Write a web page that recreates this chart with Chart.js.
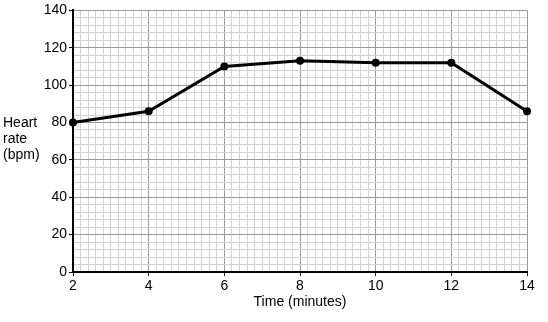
<!DOCTYPE html>
<html>
<head>
<meta charset="utf-8">
<script src="https://cdn.jsdelivr.net/npm/chart.js@4"></script>
<style>
html,body{margin:0;padding:0;background:#fff;}
#wrap{width:548px;height:322px;position:relative;}
</style>
</head>
<body>
<div id="wrap"><canvas id="c" width="548" height="322"></canvas></div>
<script>
const timeMinutes = [2, 4, 6, 8, 10, 12, 14];
const heartRate = [80, 86, 110, 113, 112, 112, 86];
const xTickLabels = [2, 4, 6, 8, 10, 12, 14];
const yTickLabels = [0, 20, 40, 60, 80, 100, 120, 140];
const yTitleLines = ['Heart', 'rate', '(bpm)'];
const xTitle = 'Time (minutes)';

const FONT = "'Liberation Sans', Arial, Helvetica, sans-serif";
const near = (v, list) => list.some(t => Math.abs(v - t) < 1e-6);

const yTitlePlugin = {
  id: 'yTitle',
  afterDraw(chart) {
    const ctx = chart.ctx;
    ctx.save();
    ctx.font = '14px ' + FONT;
    ctx.fillStyle = '#000';
    ctx.textAlign = 'left';
    ctx.textBaseline = 'middle';
    const ys = [123, 139, 155];
    yTitleLines.forEach((t, i) => ctx.fillText(t, 3, ys[i]));
    ctx.restore();
  }
};

new Chart(document.getElementById('c'), {
  type: 'line',
  data: {
    datasets: [{
      data: timeMinutes.map((t, i) => ({x: t, y: heartRate[i]})),
      borderColor: '#000',
      backgroundColor: '#000',
      borderWidth: 3,
      pointRadius: 4,
      pointBackgroundColor: '#000',
      pointBorderWidth: 0,
      tension: 0,
      clip: false
    }]
  },
  options: {
    responsive: false,
    animation: false,
    devicePixelRatio: 1,
    layout: {padding: {left: 0, right: 21, top: 8, bottom: 0}},
    plugins: {legend: {display: false}, tooltip: {enabled: false}},
    scales: {
      x: {
        type: 'linear',
        min: 2, max: 14,
        afterFit(s) { s.height = 50; },
        border: {display: true, color: '#000', width: 2},
        grid: {
          lineWidth: 1,
          color: c => near(c.tick.value, xTickLabels) ? '#9a9a9a' : '#d2d2d2',
          tickColor: c => near(c.tick.value, xTickLabels) ? '#000' : 'rgba(0,0,0,0)',
          tickLength: 4,
          drawTicks: true
        },
        ticks: {
          stepSize: 0.2,
          autoSkip: false,
          maxRotation: 0,
          padding: 2,
          color: '#000',
          font: {family: FONT, size: 14},
          callback: v => near(v, xTickLabels) ? String(Math.round(v)) : ''
        },
        title: {
          display: true,
          text: xTitle,
          color: '#000',
          font: {family: FONT, size: 14},
          padding: {top: 0, bottom: 11}
        }
      },
      y: {
        type: 'linear',
        min: 0, max: 140,
        afterFit(s) { s.width = 73; },
        border: {display: true, color: '#000', width: 2},
        grid: {
          lineWidth: 1,
          color: c => near(c.tick.value, yTickLabels) ? '#9a9a9a' : '#d2d2d2',
          tickColor: c => near(c.tick.value, yTickLabels) ? '#000' : 'rgba(0,0,0,0)',
          tickLength: 4
        },
        ticks: {
          stepSize: 4,
          autoSkip: false,
          padding: 2,
          color: '#000',
          font: {family: FONT, size: 14},
          callback: v => near(v, yTickLabels) ? String(Math.round(v)) : ''
        }
      }
    }
  },
  plugins: [yTitlePlugin]
});
</script>
</body>
</html>
